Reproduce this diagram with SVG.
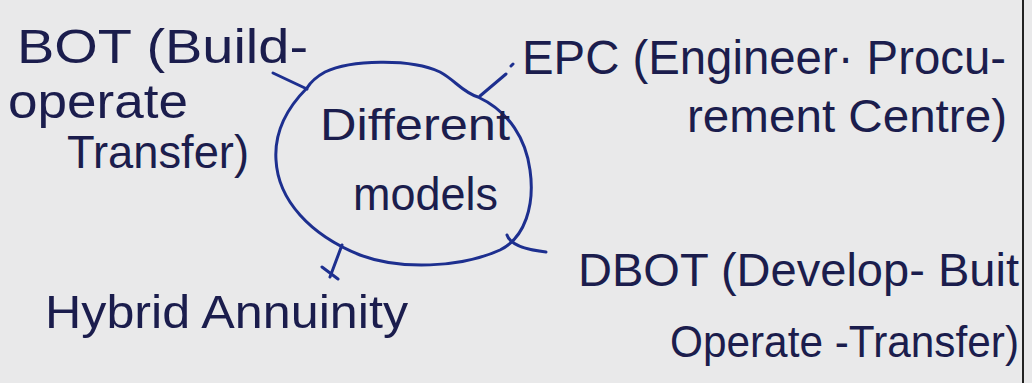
<svg xmlns="http://www.w3.org/2000/svg" width="1032" height="383" viewBox="0 0 1032 383">
<style>
.t{font-family:"Liberation Sans",Arial,sans-serif;fill:#1b1d4d;}
.c{fill:none;stroke:#1d2f8f;stroke-width:3;stroke-linecap:round;stroke-linejoin:round;}
</style>
<rect x="0" y="0" width="1032" height="383" fill="#e9e9ea"/>
<line x1="1023" y1="0" x2="1023" y2="383" stroke="#222" stroke-width="2"/>
<g id="center">
<path class="c" d="M307,88 C290,105 274,130 276,160 C278,200 310,235 360,255 C400,270 460,268 500,250 C525,238 535,205 530,170 C526,140 510,112 478,97 C462,92 455,80 440,72 C410,58 350,60 325,72 C316,77 310,83 307,88 Z"/>
<text class="t" x="320" y="140" font-size="44" textLength="190" lengthAdjust="spacingAndGlyphs">Different</text>
<text class="t" x="353" y="210" font-size="46" textLength="145" lengthAdjust="spacingAndGlyphs">models</text>
</g>
<g id="bot">
<text class="t" x="17" y="63" font-size="48" textLength="291" lengthAdjust="spacingAndGlyphs">BOT (Build-</text>
<text class="t" x="8" y="118" font-size="48" textLength="180" lengthAdjust="spacingAndGlyphs">operate</text>
<text class="t" x="67" y="168" font-size="46" textLength="182" lengthAdjust="spacingAndGlyphs">Transfer)</text>
</g>
<g id="epc">
<text class="t" x="522" y="74" font-size="48" textLength="484" lengthAdjust="spacingAndGlyphs">EPC (Engineer· Procu-</text>
<text class="t" x="687" y="132" font-size="46" textLength="320" lengthAdjust="spacingAndGlyphs">rement Centre)</text>
</g>
<g id="dbot">
<text class="t" x="578" y="286" font-size="46" textLength="441" lengthAdjust="spacingAndGlyphs">DBOT (Develop- Buit</text>
<text class="t" x="670" y="357" font-size="44" textLength="349" lengthAdjust="spacingAndGlyphs">Operate -Transfer)</text>
</g>
<g id="hybrid">
<text class="t" x="45" y="328" font-size="46" textLength="363" lengthAdjust="spacingAndGlyphs">Hybrid Annuinity</text>
</g>
<g id="connectors">
<path class="c" d="M273,73 L307,89"/>
<path class="c" d="M480,96 L506,74 M511,66 L513,64"/>
<path class="c" d="M507,235 Q511,248 546,252"/>
<path class="c" d="M342,245 L330,277 M322,267 L338,279"/>
</g>
</svg>
